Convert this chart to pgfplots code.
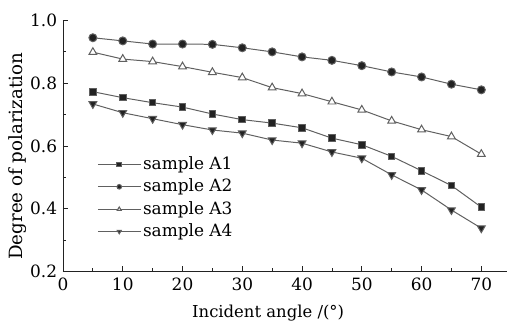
\documentclass[border=0pt]{standalone}
\usepackage{pgfplots}
\pgfplotsset{compat=1.18}
\usepackage{fontspec}
\setmainfont{DejaVu Serif}
\definecolor{ln}{HTML}{606060}
\definecolor{mk}{HTML}{222222}
\begin{document}
\fontsize{17}{20}\selectfont
\begin{tikzpicture}
\begin{axis}[
  scale only axis, width=444bp, height=251bp,
  xmin=0, xmax=74.3, ymin=0.2, ymax=1.0,
  axis x line*=bottom, axis y line*=left,
  axis line style={line width=1pt, color=mk, -},
  xtick={0,10,...,70}, ytick={0.2,0.4,...,1.0},
  minor xtick={5,15,...,65}, minor ytick={0.3,0.5,0.7,0.9},
  tick align=inside, major tick length=5bp, minor tick length=3bp,
  every tick/.style={color=mk, line width=0.8pt},
  yticklabel style={/pgf/number format/.cd, fixed, fixed zerofill, precision=1},
  /pgf/number format/assume math mode=true,
  ticklabel style={font=\fontsize{17}{20}\selectfont},
  xticklabel style={yshift=-1bp},
  xlabel={Incident angle /(°)},
  ylabel={Degree of polarization},
  xlabel style={at={(ticklabel cs:0.462)}, yshift=-2bp, font=\fontsize{16.5}{20}\selectfont},
  ylabel style={at={(ticklabel cs:0.459)}, yshift=-8bp, font=\fontsize{18.3}{21}\selectfont},
  legend style={draw=none, fill=none, at={(0.075,0.47)}, anchor=north west,
    font=\fontsize{17}{20}\selectfont, row sep=3pt, inner sep=1pt},
  legend cell align=left,
  legend image code/.code={\draw[#1, mark repeat=2, mark phase=2, mark size=2.3pt] plot coordinates {(0cm,0cm)(0.75cm,0cm)(1.5cm,0cm)};},
  every axis plot/.append style={color=ln, line width=1pt, mark options={solid, draw=mk}},
]
\addplot[mark=square*, mark size=3.3pt, mark options={fill=mk}] coordinates {
(5,0.773)(10,0.754)(15,0.738)(20,0.724)(25,0.702)(30,0.684)(35,0.673)(40,0.658)(45,0.625)(50,0.604)(55,0.567)(60,0.521)(65,0.474)(70,0.405)};
\addlegendentry{sample A1}
\addplot[mark=*, mark size=4pt, mark options={fill=mk}] coordinates {
(5,0.945)(10,0.935)(15,0.925)(20,0.925)(25,0.924)(30,0.913)(35,0.900)(40,0.884)(45,0.873)(50,0.856)(55,0.836)(60,0.820)(65,0.797)(70,0.779)};
\addlegendentry{sample A2}
\addplot[mark=triangle*, mark size=4.5pt, mark options={fill=white}] coordinates {
(5,0.899)(10,0.877)(15,0.869)(20,0.853)(25,0.835)(30,0.818)(35,0.786)(40,0.767)(45,0.741)(50,0.715)(55,0.680)(60,0.652)(65,0.630)(70,0.574)};
\addlegendentry{sample A3}
\addplot[mark=triangle*, mark size=4.5pt, mark options={fill=mk, rotate=180}] coordinates {
(5,0.734)(10,0.706)(15,0.687)(20,0.668)(25,0.651)(30,0.641)(35,0.619)(40,0.609)(45,0.581)(50,0.561)(55,0.508)(60,0.460)(65,0.396)(70,0.338)};
\addlegendentry{sample A4}
\end{axis}
\pgfresetboundingbox
\path ([xshift=-63bp,yshift=20.5bp]current axis.north west) rectangle ([yshift=-51.3bp]current axis.south east);
\end{tikzpicture}
\end{document}
